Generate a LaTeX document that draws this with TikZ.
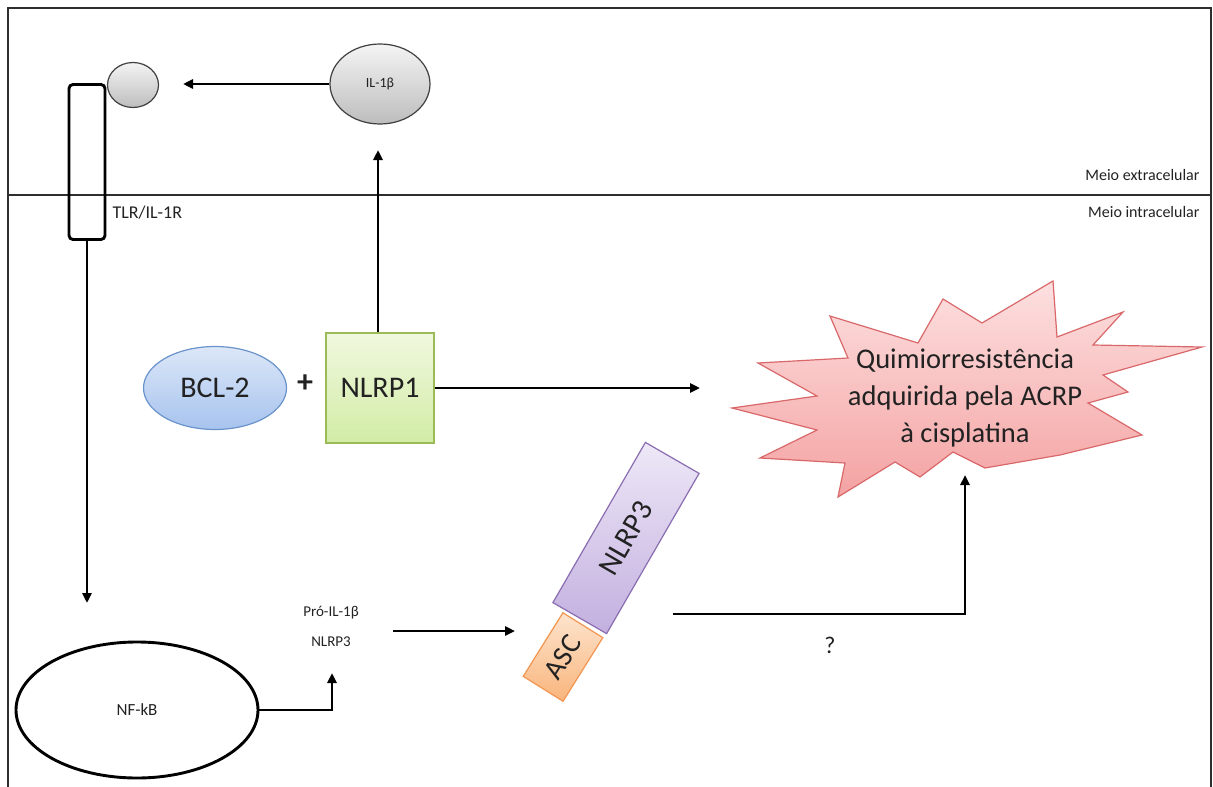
\documentclass[tikz,border=0pt]{standalone}
\usepackage{fontspec}
\setmainfont{Carlito}
\usetikzlibrary{arrows.meta,shapes.geometric}
\definecolor{grayT}{HTML}{F4F4F4}
\definecolor{grayB}{HTML}{BDBDBD}
\definecolor{blueT}{HTML}{DCE7F8}
\definecolor{blueB}{HTML}{A7C3EE}
\definecolor{blueD}{HTML}{6A93CB}
\definecolor{greenT}{HTML}{F0F8DE}
\definecolor{greenB}{HTML}{D2ECA6}
\definecolor{greenD}{HTML}{9BBB59}
\definecolor{purpT}{HTML}{EEE8F7}
\definecolor{purpB}{HTML}{C2AFDF}
\definecolor{purpD}{HTML}{8A6DB0}
\definecolor{orT}{HTML}{FDE4CE}
\definecolor{orB}{HTML}{F9B57C}
\definecolor{orD}{HTML}{F29550}
\definecolor{redT}{HTML}{FDE0E0}
\definecolor{redB}{HTML}{F4A2A2}
\definecolor{redD}{HTML}{D9686A}
\definecolor{frameC}{HTML}{2E2E2E}
\definecolor{txt}{HTML}{222222}
\tikzset{
  arr/.style={-{Triangle[length=10pt,width=9pt]}, line width=2.9pt, black},
  framec/.style={line width=1.5pt, frameC},
  grayell/.style={ellipse, draw=black!75, line width=1.2pt, top color=grayT, bottom color=grayB, inner sep=0pt},
  fs/.style={font=\fontsize{#1}{#1}\selectfont, text=txt}
}
\begin{document}
\begin{tikzpicture}[x=1pt,y=-1pt]
\useasboundingbox (0,0) rectangle (1213,787);
% frame
\draw[framec] (8,787) -- (8,8) -- (1211,8) -- (1211,787);
\draw[framec] (8,195) -- (1211,195);
\node[fs=16, anchor=east] (extra) at (1203,175) {Meio extracelular};
\node[fs=16, anchor=east] (intra) at (1203,212) {Meio intracelular};

% receptor and ligands
\node[draw=black, line width=2.9pt, rounded corners=4pt, minimum width=36pt, minimum height=155pt, inner sep=0pt] (tlr) at (87,162) {};
\node[grayell, minimum width=51pt, minimum height=45pt] (lig) at (133,85) {};
\node[grayell, minimum width=100pt, minimum height=80pt, fs=14] (il) at (380,84) {IL-1β};
\node[fs=18, anchor=west] (tlrlab) at (109,213) {TLR/IL-1R};

\coordinate (ilend) at (183,84);
\draw[arr] (il.west) -- (ilend);

% BCL-2 + NLRP1
\node[ellipse, draw=blueD, line width=1.2pt, top color=blueT, bottom color=blueB, minimum width=143pt, minimum height=83pt, fs=30] (bcl) at (215,388) {BCL-2};
\node[font=\bfseries\fontsize{32}{32}\selectfont, text=txt] (plus) at (305,384) {+};
\node[draw=greenD, line width=1.2pt, top color=greenT, bottom color=greenB, minimum width=108pt, minimum height=110pt, inner sep=0pt, fs=30] (nlrp1) at (380,388) {NLRP1};

\coordinate (upend) at (378,150);
\draw[arr] (nlrp1.north -| upend) -- (upend);
\coordinate (burstin) at (700,388);
\draw[arr] (nlrp1.east) -- (burstin);

% starburst
\draw[redD, line width=1.2pt, top color=redT, bottom color=redB]
 (732,408) -- (817,396) -- (758,363) -- (848,358) -- (830,316) -- (918,343) -- (943,299) -- (982,323) -- (1053,281) -- (1057,337) -- (1123,312) -- (1093,345) -- (1202,347) -- (1103,375) -- (1128,392) -- (1088,403) -- (1142,435) -- (1060,455) -- (985,468) -- (953,452) -- (920,477) -- (895,462) -- (838,497) -- (845,463) -- (760,458) -- (817,430) -- cycle;
\node[align=center, font=\fontsize{28.5}{37}\selectfont, text=txt] (quimio) at (965,398) {Quimiorresistência\\adquirida pela ACRP\\à cisplatina};

% NF-kB
\coordinate (nfend) at (87,603);
\draw[arr] (tlr.south) -- (nfend);
\node[ellipse, draw=black, line width=2.9pt, minimum width=242pt, minimum height=136pt, fs=17] (nfkb) at (137,710) {NF-kB};
\node[fs=15] (pro) at (331,613) {Pró-IL-1β};
\node[fs=15] (nl3) at (331,642) {NLRP3};
\coordinate (proend) at (332,673);
\draw[arr] (nfkb.east) -| (proend);
\coordinate (prostart) at (393,631);
\coordinate (proto) at (515,631);
\draw[arr] (prostart) -- (proto);

% inflammasome
\node[draw=purpD, line width=1.2pt, top color=purpT, bottom color=purpB, minimum width=185pt, minimum height=62pt, inner sep=0pt, rotate=60, fs=30] (nlrp3) at (626,538) {NLRP3};
\node[draw=orD, line width=1.2pt, top color=orT, bottom color=orB, minimum width=75pt, minimum height=47pt, inner sep=0pt, rotate=58, fs=29] (asc) at (563,657) {ASC};

\coordinate (qstart) at (673,614);
\coordinate (qend) at (965,475);
\draw[arr] (qstart) -| (qend);
\node[fs=24] (qm) at (830,645) {?};
\end{tikzpicture}
\end{document}
